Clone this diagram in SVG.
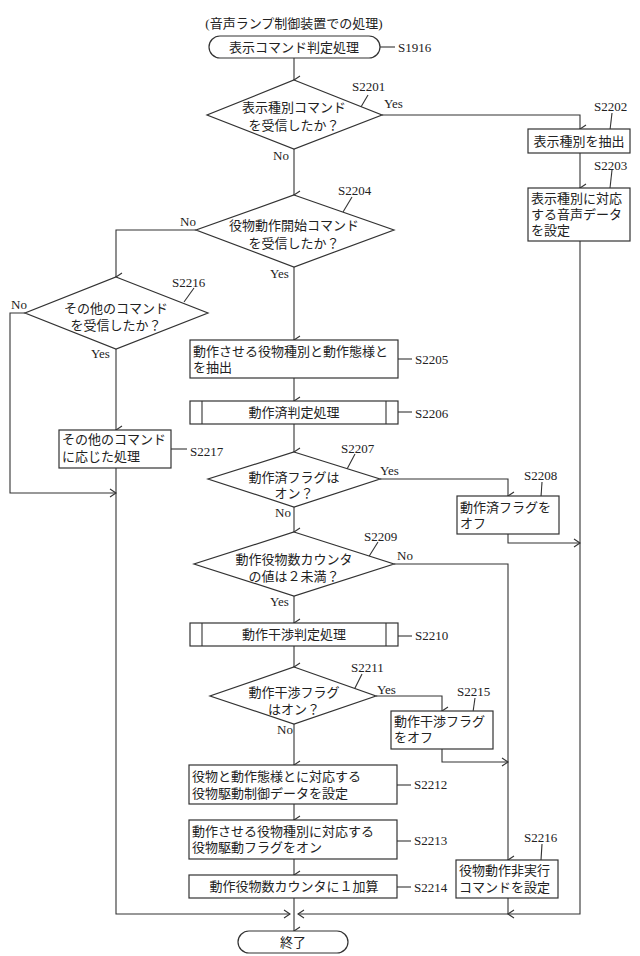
<svg xmlns="http://www.w3.org/2000/svg" width="640" height="956" viewBox="0 0 640 956">
<style>
text{font-family:"Liberation Serif","Noto Sans CJK JP",serif;font-size:13px;fill:#222}
.c{text-anchor:middle}
.s{stroke:#333;stroke-width:1.2;fill:#fff}
.l{stroke:#333;stroke-width:1.1;fill:none}
.lb{font-size:13px}
</style>
<defs><marker id="a" markerWidth="10" markerHeight="10" refX="5" refY="9" orient="auto" markerUnits="userSpaceOnUse" viewBox="0 0 10 10"><path d="M1,3 L5,9 L9,3" fill="none" stroke="#333" stroke-width="1.1"/></marker>
<marker id="r" markerWidth="10" markerHeight="10" refX="9" refY="5" orient="auto" markerUnits="userSpaceOnUse" viewBox="0 0 10 10"><path d="M3,1 L9,5 L3,9" fill="none" stroke="#333" stroke-width="1.1"/></marker></defs>
<rect width="640" height="956" fill="#fff"/>
<text x="294" y="28" class="c">(音声ランプ制御装置での処理)</text>
<g id="connectors" class="l">
<path d="M294,58 V80" marker-end="url(#r)" transform="" style="marker-end:url(#a)"/>
<path d="M382,115 H580 V129" marker-end="url(#a)"/>
<path d="M580,153 V188" marker-end="url(#a)"/>
<path d="M580,241 V914 H298" marker-end="url(#r)"/>
<path d="M294,149 V195" marker-end="url(#a)"/>
<path d="M196,230 H116 V277" marker-end="url(#a)"/>
<path d="M116,349 V430" marker-end="url(#a)"/>
<path d="M25,313 H10 V493 H116" marker-end="url(#r)"/>
<path d="M116,468 V914 H290" marker-end="url(#r)"/>
<path d="M294,267 V340" marker-end="url(#a)"/>
<path d="M294,378 V401" marker-end="url(#a)"/>
<path d="M294,424 V452" marker-end="url(#a)"/>
<path d="M380,479 H508 V496" marker-end="url(#a)"/>
<path d="M508,534 V543 H580" marker-end="url(#r)"/>
<path d="M294,507 V532" marker-end="url(#a)"/>
<path d="M394,564 H508 V860" marker-end="url(#a)"/>
<path d="M294,596 V623" marker-end="url(#a)"/>
<path d="M294,646 V667" marker-end="url(#a)"/>
<path d="M376,696 H442 V711" marker-end="url(#a)"/>
<path d="M442,749 V762 H508" marker-end="url(#r)"/>
<path d="M294,724 V765" marker-end="url(#a)"/>
<path d="M294,804 V820" marker-end="url(#a)"/>
<path d="M294,859 V875" marker-end="url(#a)"/>
<path d="M294,898 V931" marker-end="url(#a)"/>
<path d="M508,898 V914" marker-end="url(#a)"/>
<path d="M380,47 H395"/>
<path d="M368,95 L358,112"/><path d="M612,113 L610,130"/><path d="M612,170 L610,188"/>
<path d="M352,197 L343,212"/><path d="M194,288 L184,302"/><path d="M398,359 H412"/><path d="M398,412 H412"/>
<path d="M171,449 H187"/><path d="M355,454 L346,471"/><path d="M542,482 L541,497"/><path d="M378,542 L368,558"/>
<path d="M398,636 H412"/><path d="M362,674 L354,690"/><path d="M475,698 L473,712"/><path d="M397,785 H411"/><path d="M397,841 H411"/><path d="M397,887 H411"/><path d="M542,844 L541,860"/>
</g>
<g id="S1916"><rect x="209" y="36" width="171" height="22" rx="11" class="s"/><text x="294" y="52" class="c">表示コマンド判定処理</text><text x="398" y="52" class="lb">S1916</text></g>
<g id="S2201"><polygon points="294,80 382,115 294,149 207,115" class="s"/><text x="294" y="112" class="c">表示種別コマンド</text><text x="294" y="130" class="c">を受信したか？</text><text x="352" y="91" class="lb">S2201</text><text x="384" y="108">Yes</text><text x="273" y="160">No</text></g>
<g id="S2202"><rect x="528" y="129" width="102" height="24" class="s"/><text x="579" y="146" class="c">表示種別を抽出</text><text x="594" y="111" class="lb">S2202</text></g>
<g id="S2203"><rect x="528" y="188" width="102" height="53" class="s"/><text x="531" y="203">表示種別に対応</text><text x="531" y="219">する音声データ</text><text x="531" y="235">を設定</text><text x="594" y="170" class="lb">S2203</text></g>
<g id="S2204"><polygon points="294,195 394,230 294,267 196,230" class="s"/><text x="294" y="230" class="c">役物動作開始コマンド</text><text x="294" y="248" class="c">を受信したか？</text><text x="338" y="195" class="lb">S2204</text><text x="180" y="226">No</text><text x="270" y="278">Yes</text></g>
<g id="S2216a"><polygon points="116,277 208,313 116,349 25,313" class="s"/><text x="116" y="313" class="c">その他のコマンド</text><text x="116" y="330" class="c">を受信したか？</text><text x="172" y="287" class="lb">S2216</text><text x="11" y="309">No</text><text x="91" y="358">Yes</text></g>
<g id="S2217"><rect x="59" y="430" width="112" height="38" class="s"/><text x="62" y="444">その他のコマンド</text><text x="62" y="461">に応じた処理</text><text x="190" y="456" class="lb">S2217</text></g>
<g id="S2205"><rect x="190" y="340" width="208" height="38" class="s"/><text x="193" y="356">動作させる役物種別と動作態様と</text><text x="193" y="372">を抽出</text><text x="415" y="364" class="lb">S2205</text></g>
<g id="S2206"><rect x="190" y="401" width="208" height="23" class="s"/><path d="M202,401 V424 M386,401 V424" class="l"/><text x="294" y="417" class="c">動作済判定処理</text><text x="415" y="418" class="lb">S2206</text></g>
<g id="S2207"><polygon points="294,452 380,479 294,507 208,479" class="s"/><text x="294" y="482" class="c">動作済フラグは</text><text x="294" y="498" class="c">オン？</text><text x="341" y="453" class="lb">S2207</text><text x="380" y="475">Yes</text><text x="275" y="517">No</text></g>
<g id="S2208"><rect x="457" y="496" width="102" height="38" class="s"/><text x="460" y="512">動作済フラグを</text><text x="460" y="528">オフ</text><text x="524" y="480" class="lb">S2208</text></g>
<g id="S2209"><polygon points="294,532 394,564 294,596 194,564" class="s"/><text x="294" y="564" class="c">動作役物数カウンタ</text><text x="294" y="581" class="c">の値は２未満？</text><text x="364" y="541" class="lb">S2209</text><text x="397" y="560">No</text><text x="270" y="606">Yes</text></g>
<g id="S2210"><rect x="190" y="623" width="208" height="23" class="s"/><path d="M202,623 V646 M386,623 V646" class="l"/><text x="294" y="639" class="c">動作干渉判定処理</text><text x="415" y="640" class="lb">S2210</text></g>
<g id="S2211"><polygon points="294,667 376,696 294,724 210,696" class="s"/><text x="294" y="697" class="c">動作干渉フラグ</text><text x="294" y="714" class="c">はオン？</text><text x="351" y="672" class="lb">S2211</text><text x="377" y="694">Yes</text><text x="277" y="734">No</text></g>
<g id="S2215"><rect x="391" y="711" width="102" height="38" class="s"/><text x="394" y="726">動作干渉フラグ</text><text x="394" y="742">をオフ</text><text x="457" y="696" class="lb">S2215</text></g>
<g id="S2212"><rect x="189" y="765" width="208" height="39" class="s"/><text x="192" y="781">役物と動作態様とに対応する</text><text x="192" y="798">役物駆動制御データを設定</text><text x="414" y="789" class="lb">S2212</text></g>
<g id="S2213"><rect x="189" y="820" width="208" height="39" class="s"/><text x="192" y="836">動作させる役物種別に対応する</text><text x="192" y="852">役物駆動フラグをオン</text><text x="414" y="845" class="lb">S2213</text></g>
<g id="S2214"><rect x="189" y="875" width="208" height="23" class="s"/><text x="294" y="891" class="c">動作役物数カウンタに１加算</text><text x="414" y="892" class="lb">S2214</text></g>
<g id="S2216b"><rect x="456" y="860" width="102" height="38" class="s"/><text x="459" y="875">役物動作非実行</text><text x="459" y="892">コマンドを設定</text><text x="524" y="842" class="lb">S2216</text></g>
<g id="end"><rect x="238" y="931" width="110" height="22" rx="11" class="s"/><text x="293" y="947" class="c">終了</text></g>
</svg>
